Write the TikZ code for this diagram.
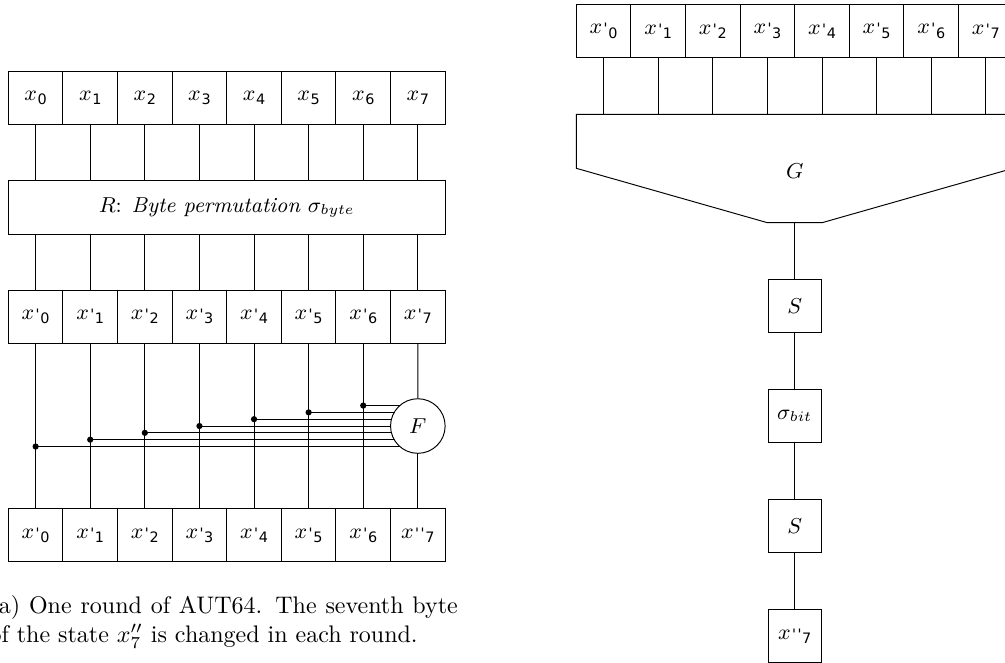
\documentclass[tikz,border=0pt]{standalone}
\usepackage{fontspec}
\newfontfamily\dejavu{DejaVu Sans}
\usetikzlibrary{positioning}
\newcommand{\subd}[1]{{\dejavu\fontsize{6}{7}\selectfont\raisebox{-1.7pt}{#1}}}
\newcommand{\tick}{{\dejavu\fontsize{6}{7}\selectfont\kern0.6pt\char"27}}
\newcommand{\xb}[2]{$x$#1\kern0.3pt\subd{#2}}
\tikzset{line width=0.6pt,
every node/.style={font=\small},
cell/.style={ % one byte of the state
draw,
minimum width=0.8cm,
minimum height=0.78cm,
inner sep=0pt},
wide/.style={draw, minimum width=6.4cm, minimum height=0.78cm},
op/.style={draw, minimum size=0.78cm, inner sep=0pt},
fbox/.style={draw, circle, fill=white, minimum size=0.8cm, inner sep=0pt},
tap/.style={fill, circle, inner sep=0pt, minimum size=2.6pt}}

\begin{document}
\begin{tikzpicture}
\path[use as bounding box] (0,0) rectangle (14.725,-9.7);
% left: one round
\foreach \i in {0,...,7} {
\node[cell] (a\i) at ({0.522+0.8*\i},-1.434) {\xb{}{\i}};
\node[cell] (b\i) at ({0.522+0.8*\i},-4.64) {\xb{\tick}{\i}};
}
\foreach \i in {0,...,6}
\node[cell] (c\i) at ({0.522+0.8*\i},-7.84) {\xb{\tick}{\i}};
\node[cell] (c7) at (6.122,-7.84) {\xb{\tick\tick}{7}};
\node[wide] (R) at (3.322,-3.04) {$R$: \textit{Byte permutation} $\sigma_{byte}$};
\foreach \i in {0,...,7} {
\draw (a\i.south) -- (a\i.south |- R.north);
\draw (b\i.north |- R.south) -- (b\i.north);
}
\foreach \i in {0,...,6} \draw (b\i.south) -- (c\i.north);
\coordinate (Fc) at (6.122,-6.242);
\foreach \i in {0,...,6} {
\coordinate (d\i) at ({0.522+0.8*\i},{-6.242+(\i-3)*0.1});
\draw (d\i) -- (d\i -| Fc);
\node[tap] at (d\i) {};
}
\node[fbox] (F) at (Fc) {$F$};
\draw (b7.south) -- (F.north);
\draw (F.south) -- (c7.north);
\node[anchor=north west, text width=6.86cm, inner sep=0pt, align=justify,
font=\normalsize] (cap) at (-0.16,-8.716)
{(a) One round of AUT64. The seventh byte of the state $x''_7$ is changed in each round.};
% right: the function F
\foreach \i in {0,...,7}
\node[cell] (u\i) at ({8.844+0.8*\i},-0.452) {\xb{\tick}{\i}};
\coordinate (gtop) at (11.644,-1.675);
\coordinate (gout) at (11.644,-3.263);
\draw (8.444,-1.675) -- (14.844,-1.675) -- (14.844,-2.466) -- (12.044,-3.263)
-- (11.244,-3.263) -- (8.444,-2.466) -- cycle;
\node (G) at (11.644,-2.5) {$G$};
\foreach \i in {0,...,7} \draw (u\i.south) -- (u\i.south |- gtop);
\node[op] (s1) at (11.644,-4.48) {$S$};
\node[op, below=0.82cm of s1] (sig) {$\sigma_{bit}$};
\node[op, below=0.82cm of sig] (s2) {$S$};
\node[op, below=0.82cm of s2] (out) {\xb{\tick\tick}{7}};
\draw (gout) -- (s1) -- (sig) -- (s2) -- (out);
\end{tikzpicture}
\end{document}
